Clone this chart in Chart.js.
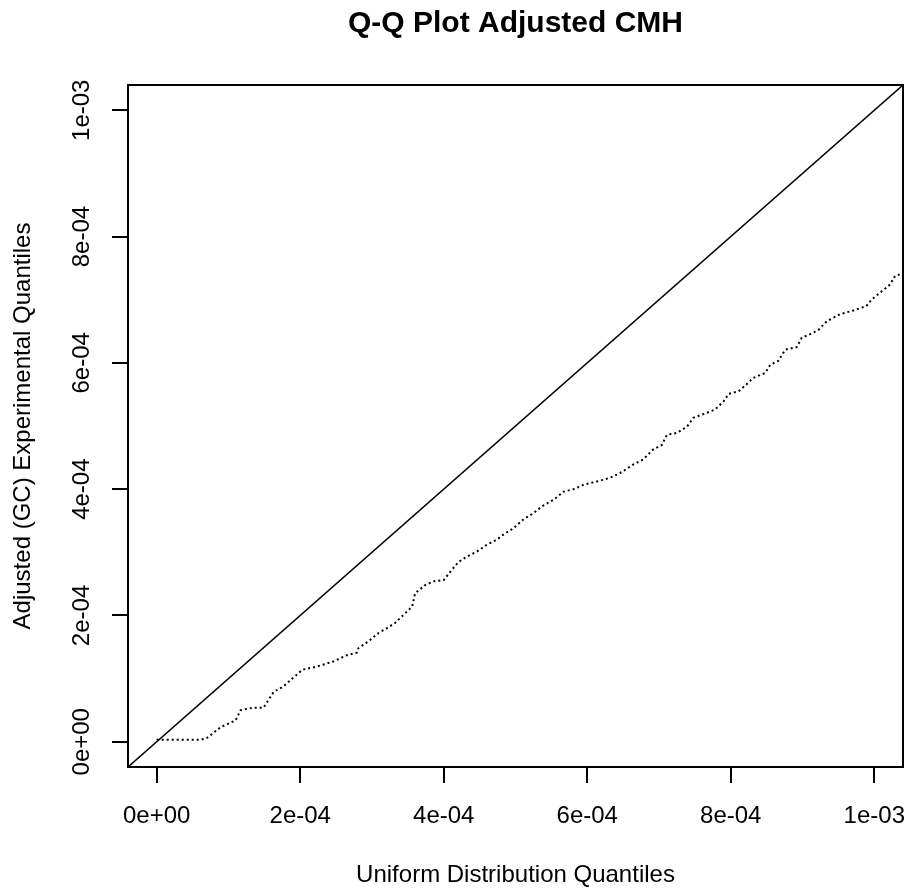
<!DOCTYPE html>
<html>
  <head>
    <meta charset="utf-8">
    <title>Q-Q Plot Adjusted CMH</title>
    <script src="https://cdn.jsdelivr.net/npm/chart.js@4.4.1/dist/chart.umd.min.js"></script>
    <style>
      html, body { margin: 0; padding: 0; background: #fff; }
      #wrap { width: 912px; height: 890px; }
    </style>
  </head>
  <body>
    <div id="wrap"><canvas id="chart1"></canvas></div>
    <script>
      // uniform distribution quantiles (x) vs adjusted (GC) experimental quantiles (y)
      var unifQ = [0, 0.61e-4, 0.70e-4, 0.89e-4, 1.10e-4, 1.17e-4, 1.35e-4, 1.49e-4, 1.54e-4, 1.63e-4,
                   1.76e-4, 1.90e-4, 2.03e-4, 2.23e-4, 2.46e-4, 2.65e-4, 2.79e-4, 2.81e-4, 2.95e-4, 3.09e-4,
                   3.21e-4, 3.32e-4, 3.44e-4, 3.56e-4, 3.60e-4, 3.74e-4, 3.86e-4, 4.00e-4, 4.11e-4, 4.21e-4,
                   4.32e-4, 4.46e-4, 4.60e-4, 4.74e-4, 4.83e-4, 4.97e-4, 5.11e-4, 5.25e-4, 5.37e-4, 5.53e-4,
                   5.67e-4, 5.81e-4, 5.95e-4, 6.13e-4, 6.23e-4, 6.36e-4, 6.48e-4, 6.64e-4, 6.78e-4, 6.92e-4,
                   7.04e-4, 7.11e-4, 7.25e-4, 7.39e-4, 7.48e-4, 7.67e-4, 7.78e-4, 7.90e-4, 7.97e-4, 8.11e-4,
                   8.22e-4, 8.31e-4, 8.48e-4, 8.55e-4, 8.66e-4, 8.76e-4, 8.92e-4, 8.99e-4, 9.10e-4, 9.22e-4,
                   9.34e-4, 9.52e-4, 9.71e-4, 9.89e-4, 9.96e-4, 10.10e-4, 10.22e-4, 10.29e-4, 10.36e-4];
      var expQ  = [0.03e-4, 0.03e-4, 0.06e-4, 0.23e-4, 0.34e-4, 0.50e-4, 0.54e-4, 0.54e-4, 0.63e-4, 0.79e-4,
                   0.87e-4, 1.01e-4, 1.14e-4, 1.19e-4, 1.27e-4, 1.37e-4, 1.41e-4, 1.48e-4, 1.59e-4, 1.72e-4,
                   1.80e-4, 1.88e-4, 2.01e-4, 2.14e-4, 2.35e-4, 2.48e-4, 2.54e-4, 2.56e-4, 2.72e-4, 2.85e-4,
                   2.93e-4, 3.01e-4, 3.12e-4, 3.20e-4, 3.28e-4, 3.38e-4, 3.52e-4, 3.62e-4, 3.73e-4, 3.83e-4,
                   3.96e-4, 4.00e-4, 4.07e-4, 4.12e-4, 4.15e-4, 4.20e-4, 4.27e-4, 4.39e-4, 4.47e-4, 4.63e-4,
                   4.70e-4, 4.86e-4, 4.89e-4, 4.99e-4, 5.13e-4, 5.21e-4, 5.26e-4, 5.39e-4, 5.51e-4, 5.55e-4,
                   5.66e-4, 5.76e-4, 5.84e-4, 5.97e-4, 6.03e-4, 6.21e-4, 6.25e-4, 6.40e-4, 6.45e-4, 6.52e-4,
                   6.66e-4, 6.77e-4, 6.83e-4, 6.90e-4, 7.00e-4, 7.13e-4, 7.24e-4, 7.38e-4, 7.40e-4];
      // reference line y = x
      var diagX = [-0.4e-4, 10.4e-4];
      var diagY = [-0.4e-4, 10.4e-4];
      var xTicks = [0, 2e-4, 4e-4, 6e-4, 8e-4, 1e-3];
      var xTickLabels = ['0e+00', '2e-04', '4e-04', '6e-04', '8e-04', '1e-03'];
      var yTicks = [0, 2e-4, 4e-4, 6e-4, 8e-4, 1e-3];
      var yTickLabels = ['0e+00', '2e-04', '4e-04', '6e-04', '8e-04', '1e-03'];
      var axisMin = -0.4e-4, axisMax = 10.4e-4;

      function toPoints(xs, ys) {
        var pts = [];
        for (var i = 0; i < xs.length; i++) pts.push({x: xs[i], y: ys[i]});
        return pts;
      }

      var FONT = 'Liberation Sans, Arial, Helvetica, sans-serif';

      var boxPlugin = {
        id: 'plotbox',
        afterDraw: function(chart) {
          var a = chart.chartArea, ctx = chart.ctx;
          ctx.save();
          ctx.strokeStyle = '#000';
          ctx.lineWidth = 2;
          ctx.strokeRect(a.left, a.top, a.right - a.left, a.bottom - a.top);
          ctx.restore();
        }
      };

      var ctx = document.getElementById('chart1').getContext('2d');
      new Chart(ctx, {
        type: 'scatter',
        data: {
          datasets: [
            {
              label: 'y = x',
              data: toPoints(diagX, diagY),
              showLine: true,
              borderColor: '#000',
              borderWidth: 1.5,
              pointRadius: 0
            },
            {
              label: 'Adjusted CMH',
              data: toPoints(unifQ, expQ),
              showLine: true,
              borderColor: '#000',
              borderWidth: 2,
              borderDash: [2, 3],
              pointRadius: 0
            }
          ]
        },
        options: {
          responsive: true,
          maintainAspectRatio: false,
          animation: false,
          layout: { padding: { left: 0, right: 9, top: 0, bottom: 0 } },
          plugins: {
            legend: { display: false },
            tooltip: { enabled: false },
            title: {
              display: true,
              fullSize: false,
              text: 'Q-Q Plot Adjusted CMH',
              color: '#000',
              font: { family: FONT, size: 30, weight: 'bold', lineHeight: 1.2 },
              padding: { top: 6, bottom: 43 }
            }
          },
          scales: {
            x: {
              type: 'linear',
              min: axisMin,
              max: axisMax,
              afterBuildTicks: function(s) { s.ticks = xTicks.map(function(v) { return {value: v}; }); },
              afterFit: function(s) { s.height = 123; s.paddingLeft = 0; s.paddingRight = 0; },
              grid: { drawOnChartArea: false, drawTicks: true, tickLength: 16, color: '#000', lineWidth: 2 },
              border: { display: false },
              ticks: {
                color: '#000',
                font: { family: FONT, size: 24 },
                padding: 19,
                maxRotation: 0,
                autoSkip: false,
                callback: function(v, i) { return xTickLabels[i]; }
              },
              title: {
                display: true,
                text: 'Uniform Distribution Quantiles',
                color: '#000',
                font: { family: FONT, size: 24 },
                padding: { top: 0, bottom: 0 }
              }
            },
            y: {
              type: 'linear',
              min: axisMin,
              max: axisMax,
              afterBuildTicks: function(s) { s.ticks = yTicks.map(function(v) { return {value: v}; }); },
              afterFit: function(s) { s.width = 128; s.paddingTop = 0; s.paddingBottom = 0; },
              grid: { drawOnChartArea: false, drawTicks: true, tickLength: 16, color: '#000', lineWidth: 2 },
              border: { display: false },
              ticks: {
                color: '#000',
                font: { family: FONT, size: 24 },
                minRotation: 90,
                maxRotation: 90,
                crossAlign: 'center',
                padding: -4,
                autoSkip: false,
                callback: function(v, i) { return yTickLabels[i]; }
              },
              title: {
                display: true,
                text: 'Adjusted (GC) Experimental Quantiles',
                color: '#000',
                font: { family: FONT, size: 24 },
                padding: { top: 9, bottom: 0 }
              }
            }
          }
        },
        plugins: [boxPlugin]
      });
    </script>
  </body>
</html>
